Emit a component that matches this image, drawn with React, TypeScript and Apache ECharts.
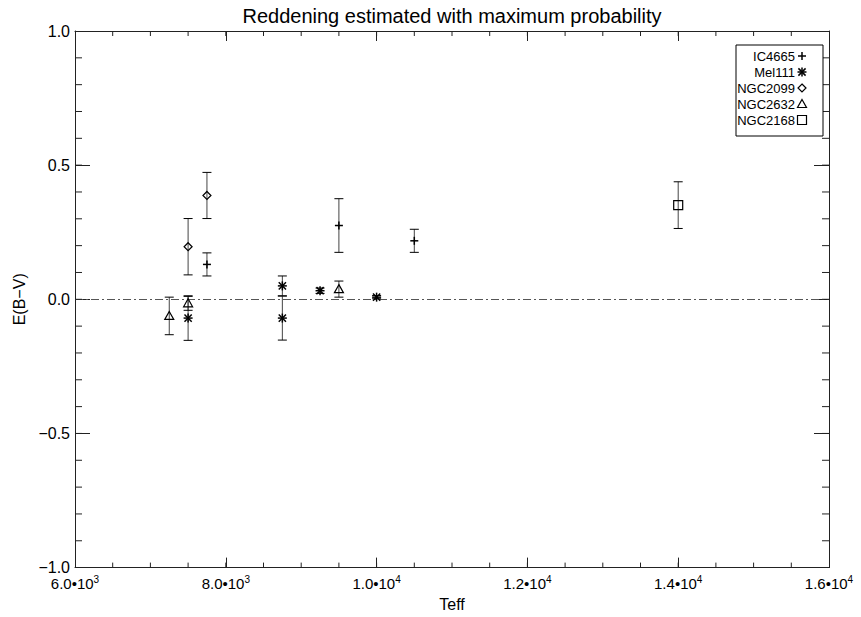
import React, { useEffect, useRef } from 'react';
import * as echarts from 'echarts';

const FONT = '"Liberation Sans", Arial, Helvetica, sans-serif';

const TITLE = 'Reddening estimated with maximum probability';
const X_NAME = 'Teff';
const Y_NAME = 'E(B\u2212V)';

const X_MIN = 6000;
const X_MAX = 16000;
const X_STEP = 2000;
const X_MINOR_STEP = 500;
const Y_MIN = -1;
const Y_MAX = 1;
const Y_STEP = 0.5;
const Y_MINOR_STEP = 0.1;
const REFERENCE_LEVEL = 0;

const clusterNames = ['IC4665', 'Mel111', 'NGC2099', 'NGC2632', 'NGC2168'];
const clusterSymbols = ['plus', 'asterisk', 'diamond', 'triangle', 'square'];

const ic4665Teff = [7750, 9500, 10500];
const ic4665EBV = [0.13, 0.275, 0.218];
const ic4665Err = [0.043, 0.1, 0.043];

const mel111Teff = [7500, 8750, 8750, 9250, 10000];
const mel111EBV = [-0.07, 0.05, -0.07, 0.032, 0.008];
const mel111Err = [0.083, 0.037, 0.082, 0.01, 0.006];

const ngc2099Teff = [7500, 7750];
const ngc2099EBV = [0.196, 0.387];
const ngc2099Err = [0.105, 0.086];

const ngc2632Teff = [7250, 7500, 9500];
const ngc2632EBV = [-0.062, -0.015, 0.038];
const ngc2632Err = [0.07, 0.026, 0.03];

const ngc2168Teff = [14000];
const ngc2168EBV = [0.351];
const ngc2168Err = [0.087];

const clusterTeff = [ic4665Teff, mel111Teff, ngc2099Teff, ngc2632Teff, ngc2168Teff];
const clusterEBV = [ic4665EBV, mel111EBV, ngc2099EBV, ngc2632EBV, ngc2168EBV];
const clusterErr = [ic4665Err, mel111Err, ngc2099Err, ngc2632Err, ngc2168Err];

const AXIS_COLOR = '#222';

function symbolElements(kind: string, x: number, y: number): any[] {
  const s = 4;
  const stroke = { stroke: '#000', lineWidth: 1.2, fill: 'none' };
  const ln = (x1: number, y1: number, x2: number, y2: number, w = 1.2) => ({
    type: 'line',
    shape: { x1, y1, x2, y2 },
    style: { ...stroke, lineWidth: w },
  });
  switch (kind) {
    case 'plus':
      return [ln(x - s, y, x + s, y, 1.5), ln(x, y - s, x, y + s, 1.5)];
    case 'asterisk': {
      const a = 4.5;
      const d = 3.6;
      return [
        ln(x - a, y, x + a, y, 1.5),
        ln(x, y - a, x, y + a, 1.5),
        ln(x - d, y - d, x + d, y + d, 1.5),
        ln(x - d, y + d, x + d, y - d, 1.5),
      ];
    }
    case 'diamond':
      return [
        {
          type: 'polygon',
          shape: { points: [[x, y - s], [x + s, y], [x, y + s], [x - s, y]] },
          style: { ...stroke },
        },
      ];
    case 'triangle':
      return [
        {
          type: 'polygon',
          shape: { points: [[x, y - 4.5], [x + 4.5, y + 3.5], [x - 4.5, y + 3.5]] },
          style: { ...stroke },
        },
      ];
    case 'square':
    default:
      return [
        {
          type: 'rect',
          shape: { x: x - 4.5, y: y - 4.5, width: 9, height: 9 },
          style: { ...stroke },
        },
      ];
  }
}

function makeRenderItem(kind: string) {
  return (params: any, api: any) => {
    const xv = api.value(0);
    const yv = api.value(1);
    const ev = api.value(2);
    const c = api.coord([xv, yv]);
    const top = api.coord([xv, yv + ev]);
    const bot = api.coord([xv, yv - ev]);
    const cap = 4.5;
    return {
      type: 'group',
      children: [
        { type: 'line', shape: { x1: c[0], y1: top[1], x2: c[0], y2: bot[1] }, style: { stroke: '#444', lineWidth: 1 } },
        { type: 'line', shape: { x1: c[0] - cap, y1: top[1], x2: c[0] + cap, y2: top[1] }, style: { stroke: '#000', lineWidth: 1 } },
        { type: 'line', shape: { x1: c[0] - cap, y1: bot[1], x2: c[0] + cap, y2: bot[1] }, style: { stroke: '#000', lineWidth: 1 } },
        ...symbolElements(kind, c[0], c[1]),
      ],
    };
  };
}

// minor ticks along the four sides; one item per tick value, placed via the axes' scales
function renderMinorTick(params: any, api: any) {
  const side = api.value(2);
  const c = api.coord([api.value(0), api.value(1)]);
  let shape;
  if (side === 0) shape = { x1: c[0], y1: c[1], x2: c[0], y2: c[1] - 5 };
  else if (side === 1) shape = { x1: c[0], y1: c[1], x2: c[0], y2: c[1] + 5 };
  else if (side === 2) shape = { x1: c[0], y1: c[1], x2: c[0] + 7, y2: c[1] };
  else shape = { x1: c[0], y1: c[1], x2: c[0] - 7, y2: c[1] };
  return { type: 'line', shape, style: { stroke: AXIS_COLOR, lineWidth: 1 } };
}

function minorTickItems() {
  const items: number[][] = [];
  const nx = Math.round((X_MAX - X_MIN) / X_MINOR_STEP);
  for (let i = 1; i < nx; i++) {
    const v = X_MIN + i * X_MINOR_STEP;
    items.push([v, Y_MIN, 0]);
    items.push([v, Y_MAX, 1]);
  }
  const ny = Math.round((Y_MAX - Y_MIN) / Y_MINOR_STEP);
  for (let i = 1; i < ny; i++) {
    const v = Y_MIN + i * Y_MINOR_STEP;
    items.push([X_MIN, v, 2]);
    items.push([X_MAX, v, 3]);
  }
  return items;
}

function xLabel(v: number) {
  const exp = Math.floor(Math.log10(v) + 1e-9);
  const m = v / Math.pow(10, exp);
  return `{m|${m.toFixed(1)}\u2022${'10'}}{e|${exp}}`;
}

function yLabel(v: number) {
  return (v < 0 ? '\u2212' : '') + Math.abs(v).toFixed(1);
}

export default function App() {
  const ref = useRef<HTMLDivElement>(null);

  useEffect(() => {
    if (!ref.current) return;
    const chart = echarts.init(ref.current, undefined, { renderer: 'svg' });

    const axisLine = { show: true, onZero: false, lineStyle: { color: AXIS_COLOR, width: 1 } };

    const series: any[] = clusterNames.map((name, i) => ({
      type: 'custom',
      name,
      xAxisIndex: 0,
      yAxisIndex: 0,
      renderItem: makeRenderItem(clusterSymbols[i]),
      encode: { x: 0, y: 1 },
      data: clusterTeff[i].map((t, j) => [t, clusterEBV[i][j], clusterErr[i][j]]),
      z: 10,
    }));

    series.push({
      type: 'line',
      name: 'ref',
      data: [],
      xAxisIndex: 0,
      yAxisIndex: 0,
      markLine: {
        silent: true,
        symbol: ['none', 'none'],
        label: { show: false },
        lineStyle: { type: [8, 3, 2, 3], color: '#555', width: 1 },
        data: [{ yAxis: REFERENCE_LEVEL }],
      },
    });

    series.push({
      type: 'custom',
      name: 'minorTicks',
      xAxisIndex: 0,
      yAxisIndex: 0,
      silent: true,
      clip: false,
      renderItem: renderMinorTick,
      encode: { x: 0, y: 1 },
      data: minorTickItems(),
      z: 20,
    });

    const legendLeft = 736;
    const legendRight = 823;
    const legendTop = 45;
    const rowH = 16;
    const legendElems: any[] = [
      {
        type: 'rect',
        shape: { x: legendLeft, y: legendTop, width: legendRight - legendLeft, height: rowH * clusterNames.length + 11 },
        style: { fill: '#fff', stroke: '#000', lineWidth: 1 },
        z: 100,
      },
    ];
    clusterNames.forEach((name, i) => {
      const yy = legendTop + 11 + i * rowH;
      legendElems.push({
        type: 'text',
        x: 795,
        y: yy,
        z: 101,
        style: {
          text: name,
          fontSize: 13,
          fontFamily: FONT,
          fill: '#000',
          align: 'right',
          verticalAlign: 'middle',
          textAlign: 'right',
          textVerticalAlign: 'middle',
        },
      });
      symbolElements(clusterSymbols[i], 802, yy).forEach((el) => legendElems.push({ ...el, z: 101 }));
    });

    const xMajor = {
      type: 'value',
      min: X_MIN,
      max: X_MAX,
      interval: X_STEP,
      axisLine,
      axisTick: { show: true, inside: true, length: 10, lineStyle: { color: AXIS_COLOR } },
      splitLine: { show: false },
    };
    const yMajor = {
      type: 'value',
      min: Y_MIN,
      max: Y_MAX,
      interval: Y_STEP,
      axisLine,
      axisTick: { show: true, inside: true, length: 15, lineStyle: { color: AXIS_COLOR } },
      splitLine: { show: false },
    };

    chart.setOption({
      animation: false,
      backgroundColor: '#fff',
      textStyle: { fontFamily: FONT, color: '#000' },
      grid: { left: 75, right: 32, top: 31, bottom: 43 },
      xAxis: [
        {
          ...xMajor,
          position: 'bottom',
          name: X_NAME,
          nameLocation: 'middle',
          nameGap: 23,
          nameTextStyle: { fontSize: 16, color: '#000', fontFamily: FONT },
          axisLabel: {
            margin: 7,
            formatter: (v: number) => xLabel(v),
            rich: {
              m: { fontSize: 15, fontFamily: FONT, color: '#000' },
              e: { fontSize: 10, fontFamily: FONT, color: '#000', verticalAlign: 'top', padding: [0, 0, 8, 0] },
            },
          },
        },
        { ...xMajor, position: 'top', axisLabel: { show: false } },
      ],
      yAxis: [
        {
          ...yMajor,
          position: 'left',
          name: Y_NAME,
          nameLocation: 'middle',
          nameGap: 46,
          nameRotate: 90,
          nameTextStyle: { fontSize: 16, color: '#000', fontFamily: FONT },
          axisLabel: { margin: 5, fontSize: 16, color: '#000', fontFamily: FONT, formatter: (v: number) => yLabel(v) },
        },
        { ...yMajor, position: 'right', axisLabel: { show: false } },
      ],
      graphic: [
        {
          type: 'text',
          x: 452,
          y: 16,
          style: {
            text: TITLE,
            fontSize: 20,
            fontFamily: FONT,
            fill: '#000',
            align: 'center',
            verticalAlign: 'middle',
            textAlign: 'center',
            textVerticalAlign: 'middle',
          },
        },
        ...legendElems,
      ],
      series,
    });

    return () => chart.dispose();
  }, []);

  return (
    <div
      ref={ref}
      style={{ position: 'fixed', left: 0, top: 0, width: 861, height: 617, background: '#fff' }}
    />
  );
}
